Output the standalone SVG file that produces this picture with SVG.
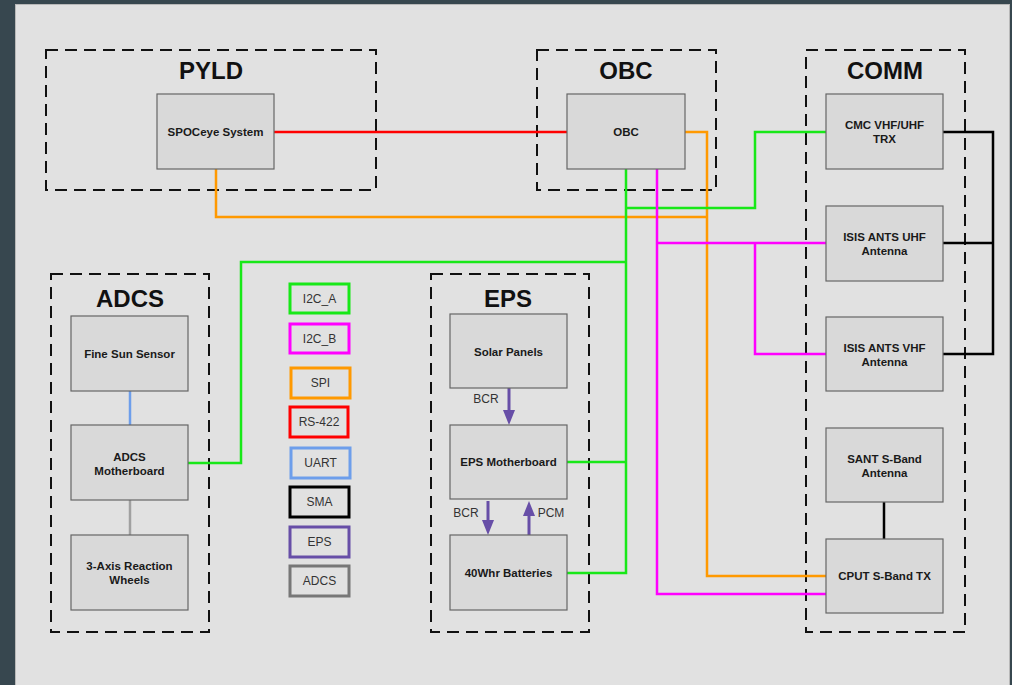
<svg xmlns="http://www.w3.org/2000/svg" width="1012" height="685" viewBox="0 0 1012 685">
<defs>
<style>
.grp{fill:none;stroke:#111;stroke-width:2;stroke-dasharray:12 7}
.title{font-family:"Liberation Sans",Arial,sans-serif;font-weight:bold;font-size:24px;fill:#111;text-anchor:middle}
.node rect{fill:#d9d9d9;stroke:#666;stroke-width:1.2}
.node text{font-family:"Liberation Sans",Arial,sans-serif;font-weight:bold;font-size:11.5px;fill:#1a1a1a;text-anchor:middle}
.leg rect{fill:none;stroke-width:3}
.leg text{font-family:"Liberation Sans",Arial,sans-serif;font-size:12px;fill:#333;text-anchor:middle}
.lbl{font-family:"Liberation Sans",Arial,sans-serif;font-size:12px;fill:#333;text-anchor:middle}
.c{fill:none;stroke-width:2.5}
.i2ca{stroke:#18e818}
.i2cb{stroke:#ff00ff}
.spi{stroke:#ff9900}
.rs{stroke:#ff0000}
.uart{stroke:#6d9eeb}
.sma{stroke:#000}
.eps{stroke:#674ea7;stroke-width:3}
.adcs{stroke:#a0a0a0}
</style>
<marker id="ah" viewBox="0 0 15 12" refX="3" refY="6" markerWidth="15" markerHeight="12" markerUnits="userSpaceOnUse" orient="auto">
<path d="M0,0 L15,6 L0,12 z" fill="#674ea7"/>
</marker>
</defs>
<rect x="0" y="0" width="1012" height="685" fill="#37474f"/>
<rect x="15.5" y="4.5" width="994" height="700" fill="#e1e1e1" stroke="#b8b8b8" stroke-width="1"/>

<g id="groups">
<rect class="grp" x="46" y="50" width="330" height="140"/>
<text class="title" x="211" y="79">PYLD</text>
<rect class="grp" x="537" y="50" width="179" height="140"/>
<text class="title" x="626" y="79">OBC</text>
<rect class="grp" x="806" y="50" width="159" height="582"/>
<text class="title" x="885" y="79">COMM</text>
<rect class="grp" x="51" y="274" width="158" height="358"/>
<text class="title" x="130" y="307">ADCS</text>
<rect class="grp" x="431" y="274" width="158" height="358"/>
<text class="title" x="508" y="307">EPS</text>
</g>

<g id="connectors">
<path class="c rs" d="M274,132 H567"/>
<path class="c spi" d="M216,169 V217 H707"/>
<path class="c spi" d="M685,132 H707 V576 H826"/>
<path class="c i2ca" d="M626,169 V573 H567"/>
<path class="c i2ca" d="M626,208 H755 V132 H826"/>
<path class="c i2ca" d="M626,262 H241 V463 H188"/>
<path class="c i2ca" d="M567,462 H626"/>
<path class="c i2cb" d="M657,169 V594 H826"/>
<path class="c i2cb" d="M657,243 H826"/>
<path class="c i2cb" d="M755,243 V354 H826"/>
<path class="c sma" d="M943,132 H993 V354 H943"/>
<path class="c sma" d="M943,243 H993"/>
<path class="c sma" d="M884,502 V539"/>
<path class="c uart" d="M130,391 V425"/>
<path class="c adcs" d="M130,500 V535"/>
<path class="c eps" d="M509,388 V413" marker-end="url(#ah)"/>
<path class="c eps" d="M488,501 V523" marker-end="url(#ah)"/>
<path class="c eps" d="M529,535 V513" marker-end="url(#ah)"/>
<text class="lbl" x="486" y="403">BCR</text>
<text class="lbl" x="466" y="517">BCR</text>
<text class="lbl" x="551" y="517">PCM</text>
</g>

<g id="spoceye" class="node"><rect x="157" y="94" width="117" height="75"/><text x="215.5" y="136">SPOCeye System</text></g>
<g id="obc" class="node"><rect x="567" y="94" width="118" height="75"/><text x="626" y="136">OBC</text></g>
<g id="cmc" class="node"><rect x="826" y="94" width="117" height="75"/><text x="884.5" y="129">CMC VHF/UHF</text><text x="884.5" y="143">TRX</text></g>
<g id="isis-uhf" class="node"><rect x="826" y="206" width="117" height="75"/><text x="884.5" y="241">ISIS ANTS UHF</text><text x="884.5" y="255">Antenna</text></g>
<g id="isis-vhf" class="node"><rect x="826" y="317" width="117" height="74"/><text x="884.5" y="352">ISIS ANTS VHF</text><text x="884.5" y="366">Antenna</text></g>
<g id="sant" class="node"><rect x="826" y="428" width="117" height="74"/><text x="884.5" y="463">SANT S-Band</text><text x="884.5" y="477">Antenna</text></g>
<g id="cput" class="node"><rect x="826" y="539" width="117" height="74"/><text x="884.5" y="580">CPUT S-Band TX</text></g>
<g id="fss" class="node"><rect x="71" y="316" width="117" height="75"/><text x="129.5" y="358">Fine Sun Sensor</text></g>
<g id="adcs-mb" class="node"><rect x="71" y="425" width="117" height="75"/><text x="129.5" y="461">ADCS</text><text x="129.5" y="475">Motherboard</text></g>
<g id="rw" class="node"><rect x="71" y="535" width="117" height="75"/><text x="129.5" y="570">3-Axis Reaction</text><text x="129.5" y="584">Wheels</text></g>
<g id="solar" class="node"><rect x="450" y="314" width="117" height="74"/><text x="508.5" y="356">Solar Panels</text></g>
<g id="eps-mb" class="node"><rect x="450" y="425" width="117" height="74"/><text x="508.5" y="466">EPS Motherboard</text></g>
<g id="batt" class="node"><rect x="450" y="535" width="117" height="75"/><text x="508.5" y="577">40Whr Batteries</text></g>

<g id="legend" class="leg">
<g id="leg-i2ca"><rect x="290" y="284" width="59" height="29" stroke="#18e818"/><text x="319.5" y="303">I2C_A</text></g>
<g id="leg-i2cb"><rect x="290" y="324" width="59" height="29" stroke="#ff00ff"/><text x="319.5" y="343">I2C_B</text></g>
<g id="leg-spi"><rect x="291" y="368" width="59" height="30" stroke="#ff9900"/><text x="320.5" y="387">SPI</text></g>
<g id="leg-rs"><rect x="290" y="407" width="58" height="30" stroke="#ff0000"/><text x="319" y="426">RS-422</text></g>
<g id="leg-uart"><rect x="291" y="448" width="59" height="30" stroke="#6d9eeb"/><text x="320.5" y="467">UART</text></g>
<g id="leg-sma"><rect x="290" y="487" width="59" height="30" stroke="#000"/><text x="319.5" y="506">SMA</text></g>
<g id="leg-eps"><rect x="290" y="527" width="59" height="30" stroke="#674ea7"/><text x="319.5" y="546">EPS</text></g>
<g id="leg-adcs"><rect x="290" y="566" width="59" height="30" stroke="#777"/><text x="319.5" y="585">ADCS</text></g>
</g>
</svg>
